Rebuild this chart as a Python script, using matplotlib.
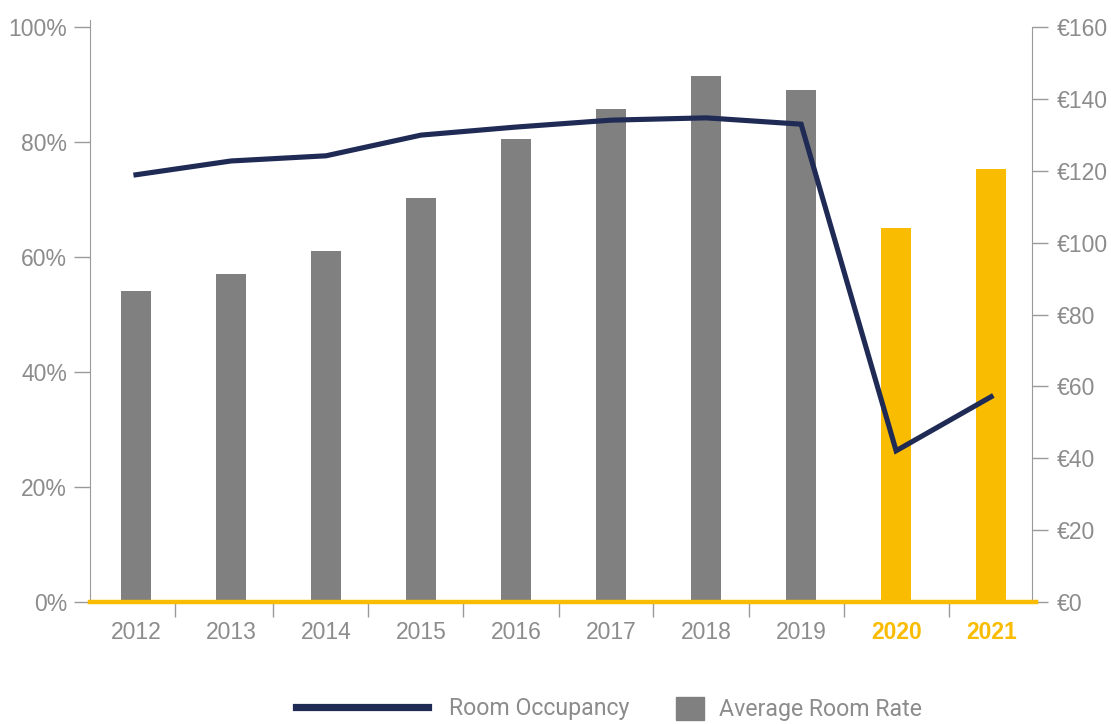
import matplotlib.pyplot as plt
from matplotlib.lines import Line2D
from matplotlib.patches import Patch

plt.rcParams['font.family'] = ['Liberation Sans', 'DejaVu Sans']

years = ['2012', '2013', '2014', '2015', '2016', '2017', '2018', '2019', '2020', '2021']
occupancy = [74.3, 76.7, 77.6, 81.2, 82.6, 83.8, 84.2, 83.1, 26.3, 35.7]   # %
room_rate = [86.5, 91.3, 97.7, 112.4, 128.8, 137.2, 146.4, 142.5, 104.0, 120.5]  # EUR
highlight = ['2020', '2021']

GREY = '#808080'
YELLOW = '#f9bc00'
NAVY = '#1f2a55'
TXT = '#8c8c8c'
AX = '#9a9a9a'

fig = plt.figure(figsize=(11.11, 7.24), dpi=100)
ax = fig.add_axes([90/1111, 1 - 602/724, (1032 - 90)/1111, (602 - 27)/724])
ax2 = ax.twinx()

x = list(range(len(years)))
bar_colors = [YELLOW if y in highlight else GREY for y in years]
ax2.bar(x, room_rate, width=0.31, color=bar_colors, zorder=2)
ax.plot(x, occupancy, color=NAVY, lw=3.7, solid_joinstyle='miter', zorder=3)

ax.set_zorder(ax2.get_zorder() + 1)
ax.patch.set_visible(False)

ax.set_xlim(-0.484, 9.43)
ax.set_ylim(0, 100)
ax2.set_ylim(0, 160)

ax.set_yticks(range(0, 101, 20))
ax.set_yticklabels([f'{v}%' for v in range(0, 101, 20)])
ax2.set_yticks(range(0, 161, 20))
ax2.set_yticklabels([f'€{v}' for v in range(0, 161, 20)])

for a in (ax, ax2):
    a.spines['top'].set_visible(False)
    a.spines['bottom'].set_visible(False)
    a.tick_params(axis='y', colors=AX, labelcolor=TXT, labelsize=16.5,
                  length=11.5, width=1)
ax.tick_params(axis='y', pad=5)
ax2.tick_params(axis='y', pad=6.5)
ax.spines['right'].set_visible(False)
ax.spines['left'].set_color(AX)
ax.spines['left'].set_bounds(0, 101.2)
ax2.spines['left'].set_visible(False)
ax2.spines['right'].set_color(AX)

# yellow baseline
ax.axhline(0, xmin=0, xmax=1.004, color=YELLOW, lw=3.2, clip_on=False, zorder=4)

# x axis: labels at centres, separators as minor ticks
ax.set_xticks(x)
ax.set_xticklabels(years)
ax.tick_params(axis='x', which='major', length=0, pad=14, labelsize=16.5, labelcolor=TXT)
ax.set_xticks([0.41, 1.44, 2.44, 3.44, 4.45, 5.44, 6.45, 7.45, 8.56], minor=True)
ax.tick_params(axis='x', which='minor', length=11, width=1, color=AX, pad=0)
for lbl in ax.get_xticklabels():
    if lbl.get_text() in highlight:
        lbl.set_color(YELLOW)
        lbl.set_fontweight('bold')

# legend
leg_font = {'family': ['Roboto', 'DejaVu Sans'], 'size': 16.7}
fig.legend(handles=[Line2D([], [], color=NAVY, lw=5.2)], labels=['Room Occupancy'],
           loc='center left', bbox_to_anchor=(296/1111, 1 - 709/724), frameon=False,
           prop=leg_font, labelcolor=TXT, handlelength=5.69, handletextpad=0.9,
           borderpad=0, borderaxespad=0)
fig.legend(handles=[Patch(color=GREY)], labels=['Average Room Rate'],
           loc='center left', bbox_to_anchor=(676/1111, 1 - 709/724), frameon=False,
           prop=leg_font, labelcolor=TXT, handlelength=1.2, handleheight=1.2,
           handletextpad=0.65, borderpad=0, borderaxespad=0)

fig.savefig('out.png', dpi=100)
